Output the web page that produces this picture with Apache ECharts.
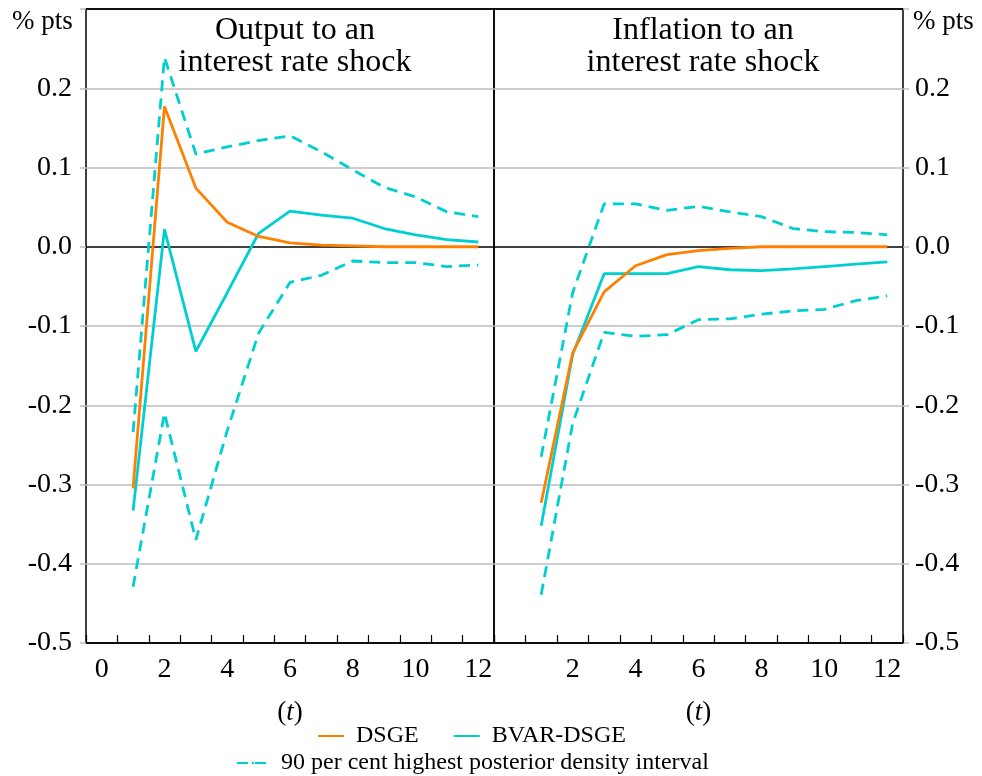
<!DOCTYPE html>
<html>
<head>
<meta charset="utf-8">
<script src="https://cdn.jsdelivr.net/npm/echarts@6/dist/echarts.min.js"></script>
<style>
  html, body { margin: 0; padding: 0; background: #fff; }
  #chart { width: 982px; height: 776px; }
</style>
</head>
<body>
<div id="chart"></div>
<script>
// categories on the x axis (quarters after the shock)
const periods = ['0', '1', '2', '3', '4', '5', '6', '7', '8', '9', '10', '11', '12'];
const yTicks = [-0.5, -0.4, -0.3, -0.2, -0.1, 0.0, 0.1, 0.2, 0.3];

// output to an interest rate shock, t = 1..12
const outDsge  = [-0.305, 0.177, 0.074, 0.031, 0.013, 0.005, 0.002, 0.001, 0.0, 0.0, 0.0, 0.0];
const outBvar  = [-0.333, 0.022, -0.132, -0.058, 0.017, 0.045, 0.040, 0.036, 0.023, 0.015, 0.009, 0.006];
const outUpper = [-0.234, 0.239, 0.117, 0.126, 0.134, 0.140, 0.120, 0.097, 0.075, 0.063, 0.044, 0.038];
const outLower = [-0.429, -0.210, -0.370, -0.232, -0.109, -0.045, -0.036, -0.018, -0.020, -0.020, -0.025, -0.023];

// inflation to an interest rate shock, t = 1..12
const infDsge  = [-0.323, -0.134, -0.057, -0.024, -0.010, -0.005, -0.002, 0.0, 0.0, 0.0, 0.0, 0.0];
const infBvar  = [-0.352, -0.136, -0.034, -0.034, -0.034, -0.025, -0.029, -0.030, -0.028, -0.025, -0.022, -0.019];
const infUpper = [-0.265, -0.058, 0.054, 0.054, 0.046, 0.051, 0.044, 0.038, 0.023, 0.019, 0.018, 0.015];
const infLower = [-0.439, -0.223, -0.108, -0.113, -0.111, -0.092, -0.091, -0.085, -0.081, -0.079, -0.068, -0.062];

const FONT = "'Liberation Serif', 'Times New Roman', serif";
const ORANGE = '#ff8000';
const CYAN = '#00cfcf';
const BAND = '90 per cent highest posterior density interval';

const chart = echarts.init(document.getElementById('chart'));

function pairs(vals) {
    return vals.map((v, i) => [i + 1, v]);
}

function lineSeries(name, vals, idx, color, dashed) {
    return {
        name: name,
        type: 'line',
        xAxisIndex: idx,
        yAxisIndex: idx,
        data: pairs(vals),
        symbol: 'none',
        silent: true,
        lineStyle: {
            color: color,
            width: 2.8,
            type: dashed ? [11, 7] : 'solid'
        },
        itemStyle: { color: color }
    };
}

// zero line and frame edges black, the rest grey
const gridColors = yTicks.map(v => (Math.abs(v) < 1e-9 || v === -0.5 || v === 0.3) ? '#000' : '#bdbdbd');

function xAxis(idx, hideZero) {
    return {
        type: 'category',
        gridIndex: idx,
        data: periods,
        boundaryGap: true,
        axisLine: { show: false, onZero: false },
        axisTick: { show: true, inside: true, length: 8, interval: 0, lineStyle: { color: '#000', width: 1.2 } },
        axisLabel: {
            interval: 1,
            margin: 13,
            fontFamily: FONT,
            fontSize: 28,
            color: '#000',
            formatter: v => (hideZero && v === '0') ? '' : v
        },
        splitLine: { show: false },
        name: '{p|(}{i|t}{p|)}',
        nameLocation: 'middle',
        nameGap: 56,
        nameTextStyle: {
            rich: {
                p: { fontFamily: FONT, fontSize: 27, color: '#000' },
                i: { fontFamily: FONT, fontSize: 27, color: '#000', fontStyle: 'italic' }
            }
        }
    };
}

function yAxis(idx, pos) {
    return {
        type: 'value',
        gridIndex: idx,
        position: pos,
        min: -0.5,
        max: 0.3,
        interval: 0.1,
        axisLine: { show: false },
        axisTick: { show: true, length: 6, lineStyle: { color: '#bdbdbd', width: 1.5 } },
        axisLabel: {
            margin: pos === 'left' ? 14 : 12,
            fontFamily: FONT,
            fontSize: 28,
            color: '#000',
            formatter: v => v > 0.25 ? '' : v.toFixed(1)
        },
        splitLine: { show: true, lineStyle: { color: gridColors, width: 1.5 } }
    };
}

const titleStyle = { fontFamily: FONT, fontSize: 32, lineHeight: 32, fontWeight: 'normal', color: '#000' };
const unitStyle = { fontFamily: FONT, fontSize: 27, fontWeight: 'normal', color: '#000' };
const legendText = { fontFamily: FONT, fontSize: 24, color: '#000', padding: [0, 0, 0, 7] };

const option = {
    backgroundColor: '#fff',
    animation: false,
    textStyle: { fontFamily: FONT, color: '#000' },
    title: [
        { text: 'Output to an\ninterest rate shock', left: 290, top: 10, textAlign: 'center', textStyle: titleStyle },
        { text: 'Inflation to an\ninterest rate shock', left: 698, top: 10, textAlign: 'center', textStyle: titleStyle },
        { text: '% pts', left: 7, top: 3, textStyle: unitStyle },
        { text: '% pts', left: 908, top: 3, textStyle: unitStyle }
    ],
    legend: [
        {
            data: ['DSGE', 'BVAR-DSGE'],
            left: 312, top: 719,
            itemWidth: 26, itemHeight: 3, itemGap: 34,
            textStyle: legendText
        },
        {
            data: [BAND],
            left: 231, top: 746,
            itemWidth: 32, itemHeight: 3,
            textStyle: legendText
        }
    ],
    grid: [
        { left: 86, width: 408, top: 9, bottom: 133, show: true, borderColor: '#000', borderWidth: 1.5 },
        { left: 494, width: 409, top: 9, bottom: 133, show: true, borderColor: '#000', borderWidth: 1.5 }
    ],
    xAxis: [xAxis(0, false), xAxis(1, true)],
    yAxis: [yAxis(0, 'left'), yAxis(1, 'right')],
    series: [
        lineSeries(BAND, outUpper, 0, CYAN, true),
        lineSeries(BAND, outLower, 0, CYAN, true),
        lineSeries('BVAR-DSGE', outBvar, 0, CYAN, false),
        lineSeries('DSGE', outDsge, 0, ORANGE, false),
        lineSeries(BAND, infUpper, 1, CYAN, true),
        lineSeries(BAND, infLower, 1, CYAN, true),
        lineSeries('BVAR-DSGE', infBvar, 1, CYAN, false),
        lineSeries('DSGE', infDsge, 1, ORANGE, false)
    ]
};

chart.setOption(option);
</script>
</body>
</html>
